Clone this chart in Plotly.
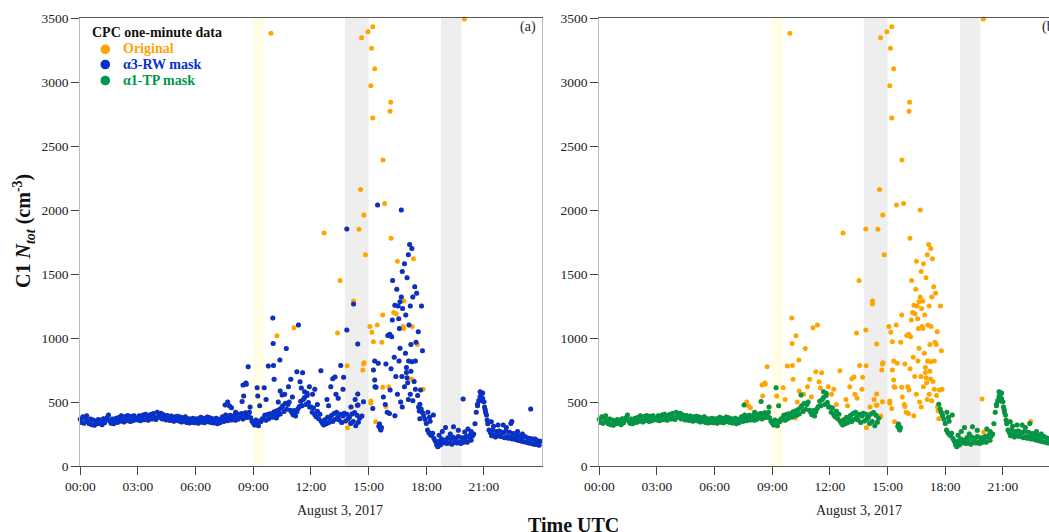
import pandas as pd
import plotly.graph_objects as go

DAY = "2017-08-03"
W, H = 1049, 532

# CPC concentration baseline (cm^-3), one value every 4 minutes, one row per hour
base_rows = [
    [366, 340, 384, 334, 372, 392, 346, 330, 368, 322, 360, 318, 352, 330, 364],
    [334, 358, 322, 370, 338, 364, 378, 398, 352, 334, 368, 330, 358, 374, 340],
    [378, 350, 392, 358, 344, 386, 354, 394, 362, 348, 388, 354, 392, 362, 372],
    [360, 392, 354, 386, 398, 362, 404, 372, 358, 394, 402, 368, 410, 378, 364],
    [420, 386, 378, 412, 368, 400, 372, 360, 394, 366, 356, 390, 362, 350, 384],
    [358, 388, 352, 382, 344, 376, 350, 384, 340, 370, 336, 368, 342, 374, 338],
    [340, 370, 334, 366, 380, 342, 374, 338, 368, 382, 346, 376, 340, 370, 336],
    [342, 374, 330, 366, 338, 370, 384, 348, 376, 390, 354, 382, 396, 360, 388],
    [392, 358, 400, 366, 404, 376, 410, 368, 402, 416, 378, 406, 420, 376, 350],
    [336, 320, 360, 328, 314, 352, 348, 370, 366, 396, 358, 402, 370, 408, 400],
    [380, 422, 388, 430, 396, 440, 406, 456, 470, 426, 490, 444, 480, 500, 436],
    [420, 400, 434, 390, 424, 450, 464, 506, 470, 520, 536, 480, 550, 496, 460],
    [460, 420, 454, 400, 384, 428, 370, 404, 350, 334, 320, 362, 330, 380, 340],
    [374, 394, 348, 410, 366, 420, 382, 360, 404, 340, 390, 412, 352, 404, 368],
    [380, 332, 406, 347, 418, 314, 396, 342, 373, None, None, None, None, None, None],
    [None] * 15,
    [None] * 15,
    [None] * 10 + [482, 446, 418, 392, 366],
    [332, 282, 262, 248, 238, 256, 214, 196, 168, 150, 194, 164, 210, 180, 192],
    [204, 176, 220, 180, 210, 170, 224, 186, 214, 180, 230, 190, 176, 220, 186],
    [214, 230, 186, 224, 240, 202, 234, 250, 330, 420, 482, 512, 542, 562, 528],
    [502, 440, 398, 330, 282, 262, 236, 280, 242, 226, 270, 236, 274, 230, 264],
    [260, 220, 272, 230, 216, 264, 226, 210, 254, 218, 206, 240, 200, 234, 196],
    [222, 190, 230, 186, 218, 180, 214, 176, 210, 170, 204, 168, 198, 162, 194],
]

# Scattered one-minute values away from the baseline.
# mask code: B = kept by both masks, R = kept by the α3-RW mask only, O = original only
spike_time = [
    "07:32", "07:34", "07:40", "07:46", "07:52", "08:05", "08:25", "08:30", "08:28", "08:38",
    "08:37", "08:44", "08:50", "09:12", "09:14", "09:20", "09:34", "09:40", "09:47", "09:55",
    "10:01", "10:02", "10:03", "10:05", "10:06", "10:12", "10:14", "10:18", "10:23", "10:24",
    "10:30", "10:38", "10:43", "10:50", "10:57", "11:02", "11:07", "11:16", "11:21", "11:26",
    "11:30", "11:34", "11:40", "11:48", "11:55", "12:05", "12:12", "12:20", "12:31", "12:38",
    "12:41", "12:50", "12:55", "13:02", "13:08", "13:15", "13:18", "13:23", "13:25", "13:31",
    "13:33", "13:40", "13:42", "13:52", "13:53", "13:52", "13:56", "13:54", "14:05", "14:13",
    "14:13", "14:18", "14:26", "14:25", "14:26", "14:27", "14:38", "14:39", "14:44", "14:44",
    "14:46", "14:42", "14:38", "14:58", "14:35", "14:45", "14:30", "14:50", "15:07", "15:07",
    "15:04", "15:07", "15:09", "15:10", "15:13", "15:13", "15:13", "15:15", "15:15", "15:19",
    "15:19", "15:19", "15:20", "15:22", "15:23", "15:27", "15:28", "15:30", "15:32", "15:34",
    "15:36", "15:38", "15:40", "15:41", "15:44", "15:44", "15:45", "15:46", "15:50", "15:52",
    "15:54", "15:54", "15:58", "16:03", "16:05", "16:07", "16:07", "16:09", "16:00", "16:06",
    "16:10", "16:12", "16:14", "16:18", "16:22", "16:22", "16:26", "16:30", "16:32", "16:36",
    "16:38", "16:38", "16:42", "16:42", "16:45", "16:48", "16:50", "16:50", "16:52", "16:55",
    "16:58", "17:00", "17:02", "17:04", "17:05", "17:06", "17:08", "17:10", "17:12", "17:14",
    "17:15", "17:15", "17:16", "17:18", "17:20", "17:22", "17:24", "17:26", "17:28", "17:30",
    "17:32", "17:33", "17:35", "17:36", "17:38", "17:40", "17:42", "17:45", "17:48", "17:50",
    "16:15", "16:28", "16:34", "16:46", "16:56", "17:00", "17:10", "17:18", "16:20", "16:25",
    "16:30", "16:40", "16:45", "16:52", "17:04", "16:10", "16:35", "16:44", "16:58", "17:12",
    "17:26", "18:05", "18:10", "18:12", "18:22", "18:40", "18:50", "19:00", "19:15", "19:25",
    "19:40", "19:55", "19:59", "20:00", "20:10", "20:20", "20:40", "20:48", "20:52", "20:56",
    "21:02", "21:05", "21:10", "21:23", "21:30", "21:44", "22:00", "22:10", "22:24", "22:27",
    "22:45", "23:00", "23:26", "23:40",
]
spike_val = [
    477, 398, 500, 468, 455, 420, 503, 547, 633, 638,
    648, 776, 460, 612, 547, 470, 612, 520, 781, 3380,
    1156, 958, 786, 677, 419, 375, 1018, 500, 828, 586,
    555, 560, 917, 620, 677, 540, 1081, 737, 1101, 659,
    610, 729, 580, 568, 620, 560, 600, 480, 745, 359,
    1820, 520, 470, 620, 682, 695, 560, 1039, 529, 1450,
    786, 600, 693, 1062, 784, 1852, 398, 299, 460, 1266,
    1289, 520, 953, 474, 562, 477, 385, 391, 502, 797,
    807, 750, 3346, 3393, 2160, 1960, 1850, 1650, 508, 490,
    1089, 2971, 3263, 1044, 3432, 2719, 450, 971, 750, 820,
    672, 3104, 620, 346, 615, 1101, 2040, 802, 310, 328,
    294, 281, 300, 966, 1180, 615, 2390, 540, 2050, 480,
    797, 464, 420, 620, 411, 594, 2771, 2841, 1020, 1030,
    1780, 1010, 1140, 1200, 1255, 393, 1190, 1600, 1250, 1075,
    919, 1284, 1320, 2000, 1520, 1090, 1290, 1075, 1580, 880,
    770, 690, 650, 1650, 820, 1101, 1730, 560, 740, 680,
    815, 1700, 1090, 510, 1620, 660, 1400, 600, 966, 1350,
    950, 550, 1049, 460, 430, 370, 594, 1250, 900, 600,
    1450, 1380, 1150, 1230, 1180, 1470, 1250, 1320, 850, 700,
    560, 500, 460, 620, 520, 760, 820, 700, 730, 950,
    820, 420, 380, 350, 398, 240, 270, 300, 250, 307,
    280, 523, 3492, 265, 290, 270, 470, 580, 510, 570,
    460, 420, 360, 346, 310, 320, 320, 300, 333, 347,
    270, 250, 445, 210,
]
spike_mask = (
    "BBRRRBBRRR" "RRBBRBRRRO" "RRRRORORRR" "BRRRRRORRR" "RRBBRRRRRO"
    "ORRRRRRORO" "RRRROROORR" "ORRRRRORRO" "OOOOOOOOOO" "OOOOOORORR"
    "RORORORRBB" "BBBOOOOROR" "RORORROORR" "ORRORROORR" "RRRRROOORR"
    "RRRRRRRRRO" "RRORORRRRR" "ORRRRRRRRO" "RRRRRRRRRR" "RRRRRRRRRR"
    "RBBBBBBBBB" "BRORBBBBBB" "BBBBBBBBBR" "BBRB"
)

# Shaded periods (start, end, colour)
band_start = ["09:00", "13:46", "18:46"]
band_end = ["09:33", "15:00", "19:50"]
band_color = ["#FFFDE3", "#EEEEEE", "#EEEEEE"]

# Time-axis tick labels
tick_labels = ["00:00", "03:00", "06:00", "09:00", "12:00", "15:00", "18:00", "21:00"]

tick_font = dict(family="Liberation Serif", size=13.5, color="#222")
ORANGE, BLUE, GREEN = "#FFA500", "#0532CC", "#00964B"

base_val = [v for row in base_rows for v in row]
base_t = pd.date_range(DAY, periods=len(base_val), freq="4min")
base = pd.DataFrame({"t": base_t, "v": base_val, "m": "B"}).dropna()
spikes = pd.DataFrame({
    "t": pd.to_datetime([f"{DAY} {s}" for s in spike_time]),
    "v": spike_val,
    "m": list(spike_mask),
})
data = pd.concat([base, spikes], ignore_index=True)
rw = data[data.m.isin(["B", "R"])]
tp = data[data.m == "B"]
tick_vals = [f"{DAY} {s}" for s in tick_labels]

fig = go.Figure()


def dots(df, color, xa, ya):
    return go.Scatter(x=df.t, y=df.v, mode="markers", xaxis=xa, yaxis=ya,
                      marker=dict(size=5, color=color, line=dict(width=0)),
                      cliponaxis=False, showlegend=False, hoverinfo="skip")


fig.add_trace(dots(data, ORANGE, "x", "y"))
fig.add_trace(dots(rw, BLUE, "x", "y"))
fig.add_trace(dots(data, ORANGE, "x2", "y2"))
fig.add_trace(dots(tp, GREEN, "x2", "y2"))

shapes = []
for xr, yr in (("x", "y domain"), ("x2", "y2 domain")):
    for s, e, c in zip(band_start, band_end, band_color):
        shapes.append(dict(type="rect", xref=xr, yref=yr, x0=f"{DAY} {s}", x1=f"{DAY} {e}",
                           y0=0, y1=1, fillcolor=c, line=dict(width=0), layer="below"))


def px(x):
    return x / W


def py(y):
    return 1 - y / H


# legend markers
for yy, c in ((49.3, ORANGE), (64.5, BLUE), (80.5, GREEN)):
    shapes.append(dict(type="circle", xref="paper", yref="paper", xsizemode="pixel",
                       ysizemode="pixel", xanchor=px(105.3), yanchor=py(yy),
                       x0=-4.8, x1=4.8, y0=-4.8, y1=4.8, fillcolor=c, line=dict(width=0)))

ydom = [py(466), py(18)]
axis_common = dict(showgrid=False, zeroline=False, ticks="outside", ticklen=8,
                   tickcolor="#444", tickfont=tick_font, showline=True, automargin=False)
time_axis = dict(axis_common, type="date", tickmode="array", tickvals=tick_vals,
                 ticktext=tick_labels, linecolor="#555", mirror=True)
fig.update_layout(
    template="none",
    width=W, height=H, autosize=False,
    margin=dict(l=0, r=0, t=0, b=0, pad=0),
    paper_bgcolor="white", plot_bgcolor="white",
    font=dict(family="Liberation Serif"),
    shapes=shapes,
    xaxis=dict(time_axis, domain=[px(80.3), px(541.6)], anchor="y",
               range=[f"{DAY} 00:00", "2017-08-04 00:00"]),
    yaxis=dict(axis_common, domain=ydom, range=[0, 3500], dtick=500, anchor="x",
               linecolor="#BBBBBB", mirror=True),
    xaxis2=dict(time_axis, domain=[px(599.3), 1.0], anchor="y2",
                range=[f"{DAY} 00:00", f"{DAY} 23:24"]),
    yaxis2=dict(axis_common, domain=ydom, range=[0, 3500], dtick=500, anchor="x2",
                linecolor="#BBBBBB", mirror=False),
)

ann = [
    dict(x=px(24), y=py(231), textangle=-90,
         text="<b>C1 <i>N</i><sub><i>tot</i></sub> (cm<sup>-3</sup>)</b>",
         font=dict(size=20, color="#111")),
    dict(x=px(573), y=py(524.5), text="<b>Time UTC</b>", font=dict(size=20, color="#111")),
    dict(x=px(340), y=py(510), text="August 3, 2017", font=dict(size=14, color="#222")),
    dict(x=px(859), y=py(510), text="August 3, 2017", font=dict(size=14, color="#222")),
    dict(x=px(528), y=py(27.5), text="(a)", font=dict(size=14, color="#222")),
    dict(x=px(1040), y=py(27), text="(b)", xanchor="left", font=dict(size=14, color="#222")),
    dict(x=px(90), y=py(33), text="<b>CPC one-minute data</b>", xanchor="left",
         font=dict(size=14, color="#111")),
    dict(x=px(121), y=py(49), text="<b>Original</b>", xanchor="left",
         font=dict(size=14, color=ORANGE)),
    dict(x=px(121), y=py(64.5), text="<b>α3-RW mask</b>", xanchor="left",
         font=dict(size=14, color=BLUE)),
    dict(x=px(121), y=py(80.5), text="<b>α1-TP mask</b>", xanchor="left",
         font=dict(size=14, color=GREEN)),
]
for a in ann:
    a.setdefault("xanchor", "center")
    fig.add_annotation(xref="paper", yref="paper", yanchor="middle", showarrow=False, **a)

fig.write_html("out.html")
